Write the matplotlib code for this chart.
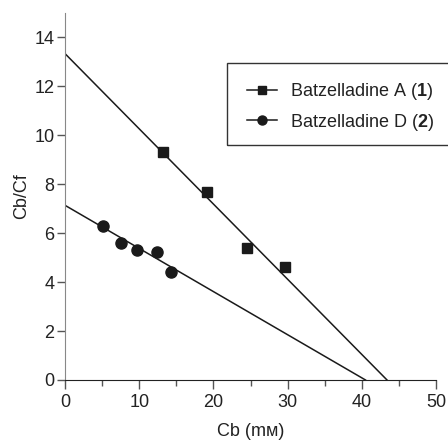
import matplotlib
matplotlib.use("Agg")
import matplotlib.pyplot as plt
from matplotlib.patches import Rectangle
import numpy as np

plt.rcParams['font.family'] = ['Liberation Sans', 'DejaVu Sans']
plt.rcParams['mathtext.fontset'] = 'custom'
plt.rcParams['mathtext.bf'] = 'Liberation Sans:bold'
plt.rcParams['mathtext.rm'] = 'Liberation Sans'

# Data
a_x = [13.2, 19.2, 24.5, 29.6]
a_y = [9.33, 7.68, 5.38, 4.60]
a_fit_x = [0.0, 43.4]
a_fit_y = [13.34, 0.0]

d_x = [5.1, 7.6, 9.75, 12.35, 14.3]
d_y = [6.28, 5.61, 5.31, 5.25, 4.43]
d_fit_x = [0.0, 40.5]
d_fit_y = [7.14, 0.0]

labels = [r'Batzelladine A ($\mathbf{1}$)', r'Batzelladine D ($\mathbf{2}$)']
xticks = [0, 10, 20, 30, 40, 50]
yticks = [0, 2, 4, 6, 8, 10, 12, 14]

txt = '#222222'
fs = 13
W, H = 448, 445
fig = plt.figure(figsize=(W/100, H/100), dpi=100)
ax = fig.add_axes([65/W, 1-380/H, (436-65)/W, (380-13)/H])

ax.plot(a_fit_x, a_fit_y, color='#1a1a1a', lw=1.1)
ax.plot(d_fit_x, d_fit_y, color='#1a1a1a', lw=1.1)
ax.plot(a_x, a_y, 's', color='#1a1a1a', ms=7.8, clip_on=False)
ax.plot(d_x, d_y, 'o', color='#1a1a1a', ms=8, clip_on=False)

# legend proxies
ha, = ax.plot([], [], '-s', color='#1a1a1a', lw=1.1, ms=6)
hd, = ax.plot([], [], '-o', color='#1a1a1a', lw=1.1, ms=6.5)

ax.set_xlim(0, 50)
ax.set_ylim(0, 15)
ax.set_xticks(xticks)
ax.set_xticks([5, 15, 25, 35, 45], minor=True)
ax.set_yticks(yticks)
for s in ['top', 'right']:
    ax.spines[s].set_visible(False)
ax.spines['left'].set_color('#888888')
ax.spines['bottom'].set_color('#222222')
ax.tick_params(axis='x', which='major', direction='out', length=6.5, width=1, colors='#555555',
               labelcolor=txt, labelsize=fs, pad=3.5)
ax.tick_params(axis='x', which='minor', direction='out', length=4.3, width=1, colors='#555555')
ax.tick_params(axis='y', which='major', direction='out', length=6, width=1, colors='#555555',
               labelcolor=txt, labelsize=fs, pad=1.5)

ax.set_xlabel('Cb (mм)', fontsize=fs, color=txt, labelpad=8.5)
ax.set_ylabel('Cb/Cf', fontsize=fs, color=txt, labelpad=3)

# legend frame (extends past the right edge of the figure)
fig.patches.append(Rectangle((227/W, 1-145/H), 0.6, 82/H, transform=fig.transFigure,
                             fill=False, edgecolor='#333333', lw=1.0))
leg = fig.legend([ha, hd], labels, loc='upper left',
                 bbox_to_anchor=(247/W, 1-81.5/H),
                 fontsize=fs, frameon=False,
                 handlelength=1.65, handletextpad=0.72, borderpad=0, labelspacing=0.5,
                 borderaxespad=0)
for t in leg.get_texts():
    t.set_color(txt)

fig.savefig('out.png', dpi=100)
